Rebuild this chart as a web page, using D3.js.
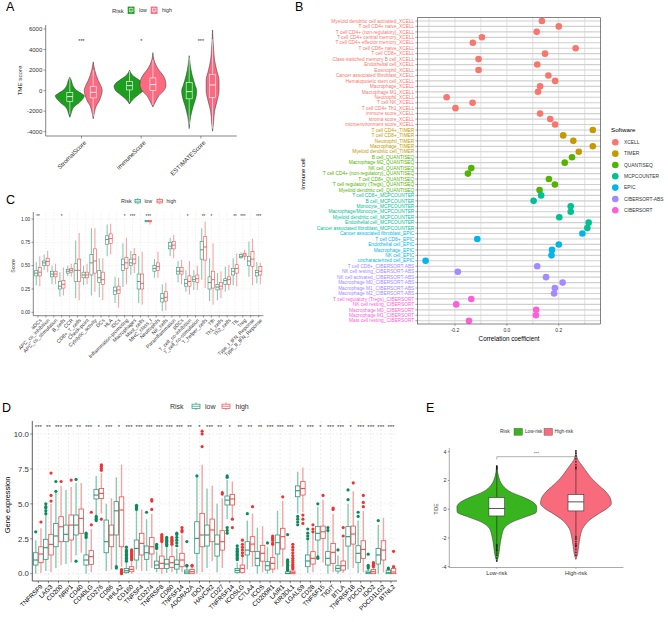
<!DOCTYPE html>
<html><head><meta charset="utf-8">
<script src="https://cdn.jsdelivr.net/npm/d3@7/dist/d3.min.js"></script>
<style>
body{margin:0;background:#fff}
svg{display:block}
text{font-family:"Liberation Sans",Arial,sans-serif}
</style>
</head><body>
<svg id="c" width="668" height="622"></svg>
<script>
// ---------------- DATA ----------------
// Panel A
const tmeCategories = ["StromalScore","ImmuneScore","ESTIMATEScore"];
const tmeTicks = [-4000,-2000,0,2000,4000,6000];
const tmeSig = ["***","*","***"];
const tmeDensLow = [
  [[-2600,0],[-2300,0.07],[-2000,0.13],[-1600,0.27],[-1200,0.6],[-800,0.87],[-500,0.97],[-300,0.8],[0,0.47],[500,0.2],[1000,0.1],[1300,0]],
  [[-1300,0],[-800,0.27],[-400,0.6],[0,0.93],[400,1.03],[700,0.93],[1000,0.67],[1500,0.2],[2000,0]],
  [[-3700,0],[-2500,0.1],[-1500,0.27],[-500,0.47],[0,0.5],[500,0.4],[1500,0.2],[2500,0.07],[3400,0]]
];
const tmeDensHigh = [
  [[-2750,0],[-2000,0.1],[-1500,0.2],[-1000,0.4],[-500,0.53],[0,0.6],[500,0.5],[1000,0.33],[1500,0.2],[2000,0.1],[2800,0]],
  [[-1600,0],[-1500,0.03],[-1000,0.2],[-500,0.4],[0,0.73],[500,0.87],[1000,0.83],[1500,0.67],[2000,0.4],[2500,0.2],[3000,0.07],[3700,0]],
  [[-3950,0],[-3000,0.07],[-2000,0.13],[-1000,0.3],[0,0.43],[1000,0.43],[2000,0.27],[3000,0.13],[4000,0.07],[5900,0]]
];
// box stats: [lowerWhisker, q1, median, q3, upperWhisker]
const tmeBoxLow  = [[-2300,-1040,-584,-165,1200],[-1100,68,487,877,1900],[-3300,-800,-100,800,3200]];
const tmeBoxHigh = [[-2500,-710,-165,390,2000],[-1400,0,584,1237,3000],[-3700,-650,550,1560,5000]];

// Panel B
const immuneCells = [
 "Myeloid dendritic cell activated_XCELL","T cell CD4+ naive_XCELL","T cell CD4+ (non-regulatory)_XCELL",
 "T cell CD4+ central memory_XCELL","T cell CD4+ effector memory_XCELL","T cell CD8+ naive_XCELL","T cell CD8+_XCELL",
 "Class-switched memory B cell_XCELL","Endothelial cell_XCELL","Eosinophil_XCELL","Cancer associated fibroblast_XCELL",
 "Hematopoietic stem cell_XCELL","Macrophage_XCELL","Macrophage M1_XCELL","Neutrophil_XCELL","T cell NK_XCELL",
 "T cell CD4+ Th1_XCELL","immune score_XCELL","stroma score_XCELL","microenvironment score_XCELL",
 "T cell CD4+_TIMER","T cell CD8+_TIMER","Neutrophil_TIMER","Macrophage_TIMER","Myeloid dendritic cell_TIMER",
 "B cell_QUANTISEQ","Macrophage M2_QUANTISEQ","NK cell_QUANTISEQ","T cell CD4+ (non-regulatory)_QUANTISEQ",
 "T cell CD8+_QUANTISEQ","T cell regulatory (Tregs)_QUANTISEQ","Myeloid dendritic cell_QUANTISEQ",
 "T cell CD8+_MCPCOUNTER","B cell_MCPCOUNTER","Monocyte_MCPCOUNTER","Macrophage/Monocyte_MCPCOUNTER",
 "Myeloid dendritic cell_MCPCOUNTER","Endothelial cell_MCPCOUNTER","Cancer associated fibroblast_MCPCOUNTER",
 "Cancer associated fibroblast_EPIC","T cell CD8+_EPIC","Endothelial cell_EPIC","Macrophage_EPIC","NK cell_EPIC",
 "uncharacterized cell_EPIC","T cell CD8+_CIBERSORT-ABS","NK cell resting_CIBERSORT-ABS","NK cell activated_CIBERSORT-ABS",
 "Macrophage M0_CIBERSORT-ABS","Macrophage M1_CIBERSORT-ABS","Macrophage M2_CIBERSORT-ABS",
 "T cell regulatory (Tregs)_CIBERSORT","NK cell resting_CIBERSORT","Macrophage M0_CIBERSORT","Macrophage M1_CIBERSORT",
 "Mast cell resting_CIBERSORT"];
const corrValues = [0.135,0.2,0.115,-0.096,-0.131,0.265,0.147,-0.109,0.117,-0.109,0.16,0.186,0.128,0.12,-0.232,-0.132,
 -0.198,0.128,0.167,0.186,0.331,0.217,0.256,0.331,0.277,0.251,0.223,-0.137,-0.15,0.162,0.185,0.126,0.132,0.103,0.246,
 0.246,0.202,0.315,0.31,0.291,-0.114,0.2,0.174,0.172,-0.313,0.117,-0.189,0.151,0.215,0.185,0.182,-0.137,-0.195,0.113,
 0.112,-0.146];
const softwareList = ["XCELL","TIMER","QUANTISEQ","MCPCOUNTER","EPIC","CIBERSORT-ABS","CIBERSORT"];
const corrTicks = [-0.2,0,0.2];
const corrGrid = [-0.3,-0.2,-0.1,0,0.1,0.2,0.3];

// Panel C
const ssCategories = ["aDCs","APC_co_inhibition","APC_co_stimulation","B_cells","CCR","CD8+_T_cells","Check-point",
 "Cytolytic_activity","DCs","HLA","iDCs","Inflammation-promoting","Macrophages","Mast_cells","MHC_class_I","Neutrophils",
 "NK_cells","Parainflammation","pDCs","T_cell_co-inhibition","T_cell_co-stimulation","T_helper_cells","Tfh","Th1_cells",
 "Th2_cells","TIL","Treg","Type_I_IFN_Reponse","Type_II_IFN_Reponse"];
const ssLow = [[0.29,0.39,0.42,0.45,0.54],[0.45,0.50,0.53,0.55,0.62],[0.30,0.38,0.41,0.44,0.50],[0.17,0.25,0.28,0.33,0.43],
 [0.39,0.42,0.44,0.46,0.50],[0.15,0.33,0.45,0.52,0.77],[0.29,0.37,0.40,0.43,0.50],[0.18,0.40,0.53,0.62,0.90],
 [0.16,0.32,0.37,0.45,0.58],[0.60,0.73,0.78,0.82,0.94],[0.10,0.19,0.23,0.27,0.38],[0.27,0.45,0.51,0.57,0.74],
 [0.40,0.50,0.53,0.57,0.66],[0.10,0.25,0.33,0.41,0.60],[0.965,0.97,0.978,0.985,0.99],[0.37,0.44,0.47,0.50,0.57],
 [0.01,0.11,0.15,0.20,0.30],[0.60,0.68,0.71,0.75,0.80],[0.32,0.41,0.44,0.48,0.55],[0.22,0.28,0.31,0.35,0.45],
 [0.24,0.33,0.35,0.38,0.45],[0.35,0.57,0.67,0.76,0.90],[0.12,0.25,0.32,0.38,0.58],[0.13,0.24,0.27,0.30,0.42],
 [0.22,0.30,0.34,0.36,0.49],[0.29,0.40,0.44,0.47,0.58],[0.57,0.585,0.60,0.62,0.64],[0.38,0.50,0.55,0.60,0.76],
 [0.31,0.39,0.425,0.45,0.54]];
const ssHigh = [[0.28,0.39,0.43,0.48,0.60],[0.43,0.50,0.545,0.58,0.66],[0.30,0.38,0.41,0.44,0.52],[0.18,0.26,0.30,0.34,0.48],
 [0.38,0.43,0.45,0.47,0.52],[0.13,0.33,0.45,0.57,0.85],[0.30,0.37,0.40,0.43,0.52],[0.22,0.42,0.55,0.68,0.90],
 [0.13,0.30,0.35,0.43,0.58],[0.62,0.74,0.79,0.84,0.95],[0.05,0.20,0.24,0.28,0.37],[0.30,0.47,0.53,0.59,0.80],
 [0.42,0.52,0.57,0.62,0.69],[0.08,0.25,0.31,0.41,0.65],[0.94,0.97,0.975,0.985,0.99],[0.37,0.45,0.49,0.53,0.65],
 [0.02,0.12,0.16,0.22,0.32],[0.58,0.68,0.72,0.76,0.83],[0.30,0.41,0.44,0.48,0.56],[0.19,0.28,0.33,0.39,0.55],
 [0.24,0.32,0.36,0.40,0.50],[0.26,0.56,0.70,0.81,0.97],[0.08,0.26,0.35,0.44,0.74],[0.15,0.25,0.28,0.32,0.44],
 [0.24,0.30,0.35,0.38,0.51],[0.28,0.42,0.47,0.51,0.63],[0.56,0.60,0.614,0.63,0.67],[0.29,0.49,0.57,0.65,0.79],
 [0.30,0.40,0.44,0.49,0.53]];
const ssSig = ["**","","","*","","","","","","","","*","***","","***","","","","","*","","**","*","","","**","***","","***"];
const ssTicks = [0,0.25,0.5,0.75,1];

// Panel D
const genes = ["TNFRSF9","LAG3","CD200","NRP1","CD40","CD40LG","CD276","CD86","HHLA2","CD160","TNFSF4","CD274","TNFRSF8",
 "CD80","TNFSF14","ADORA2A","IDO1","HAVCR2","CD27","TNFRSF14","ICOSLG","CTLA4","ICOS","CD200R1","LAIR1","KIR3DL1",
 "LGALS9","CD28","TNFSF15","TIGIT","BTLA","TNFRSF18","PDCD1","IDO2","PDCD1LG2","BTNL2"];
const geneLow = [[0,0.62,0.98,1.5,2.4],[0.2,1.03,1.86,2.46,4.2],[0.4,1.93,2.7,3.6,5.8],[0.7,2.29,2.82,3.48,6.0],
 [1.3,2.77,3.48,4.2,6.5],[0,0.62,0.98,1.34,2.5],[4.2,5.35,5.63,6.04,7.0],[0.2,1.5,2.29,3.84,5.0],[0.6,2.77,4.5,5.16,6.9],
 [0,0.07,0.21,0.38,0.8],[0.3,0.98,1.81,2.41,4.5],[0.2,1.03,1.5,1.98,3.9],[0.1,0.38,0.62,0.9,1.6],[0.05,0.38,0.69,1.03,1.9],
 [0,0.33,0.67,0.98,1.8],[0,0,0.12,0.26,0.5],[0,1.46,2.53,3.72,6.9],[0.4,1.98,2.77,3.48,6.1],[0.1,1.26,2.12,2.77,5.0],
 [3.9,4.92,5.27,5.56,6.7],[0,0.07,0.24,0.38,0.8],[0.3,1.34,1.69,2.29,3.8],[0,0.57,1.1,1.58,3.3],[0,0.26,0.57,0.86,1.9],
 [0.3,1.41,2.22,2.77,4.5],[0,0,0.02,0.14,0.2],[4.3,5.51,5.94,6.28,7.3],[0.05,0.5,0.91,1.34,2.4],[1.1,2.41,2.89,3.37,4.8],
 [0,0.62,1.1,1.58,3.0],[0,0.19,0.38,0.57,1.3],[0.3,1.98,2.65,3.37,5.0],[0.05,0.79,1.46,2.0,3.8],[0,0,0.07,0.19,0.3],
 [0,0.69,1.34,1.81,3.5],[0,0,0.07,0.26,0.3]];
const geneHigh = [[0.05,0.79,1.41,1.93,3.25],[0.1,1.34,2.1,2.82,5.0],[0.6,2.29,3.36,4.08,6.3],[0.8,2.41,3.48,4.2,6.2],
 [1.5,2.89,3.96,4.63,6.5],[0.1,0.67,1.22,1.65,3.2],[4.3,5.39,5.75,6.1,7.2],[0.3,1.93,2.77,3.48,5.4],[0.5,1.93,4.56,5.5,7.8],
 [0,0.14,0.31,0.5,0.9],[0.2,1.34,2.17,2.89,4.6],[0.4,1.41,1.93,2.58,4.3],[0,0.38,0.74,1.26,2.2],[0.1,0.45,0.79,1.22,2.0],
 [0.1,0.5,0.98,1.46,2.8],[0,0,0.14,0.31,0.5],[0.1,1.93,2.77,4.32,7.8],[0.9,2.29,3.13,3.91,6.3],[0.4,1.69,2.29,3.08,5.4],
 [4.0,4.92,5.35,5.68,6.6],[0,0.1,0.38,0.62,1.2],[0.5,1.58,2.12,2.65,4.3],[0.1,0.9,1.46,2.03,3.4],[0.05,0.33,0.74,1.15,2.0],
 [0.5,1.77,2.65,3.25,5.2],[0,0,0.07,0.19,0.3],[4.4,5.63,6.1,6.59,7.6],[0.1,0.69,1.1,1.58,2.9],[0.8,2.53,3.0,3.41,5.3],
 [0.1,0.74,1.53,2.17,4.3],[0.05,0.26,0.57,0.91,2.5],[0.4,2.12,2.84,3.41,5.9],[0.1,1.1,1.74,2.36,4.5],[0,0,0.14,0.31,0.4],
 [0.1,0.98,1.69,2.36,4.0],[0,0,0.12,0.38,0.4]];
const geneLowOut = [[3.0],[4.3,4.5,4.7,4.8,5.0],[5.9,6.6],[],[6.75,0.9],[2.6,2.7,2.8,2.9],[3.8,3.9,4.0,4.1],[],[0.4,0.5],
 [0.9,1.0,1.1,1.2,1.3,1.4,1.5,1.6,1.7,1.9],[4.6,4.7,4.8,4.9],[4.4],[1.8,1.9,2.0,2.1],[2.0,2.1,2.2,2.3,2.4,2.5,2.6],
 [2.0,2.2,2.4,2.6,2.8,2.9],[0.55,0.6,2.3],[7.0],[],[],[6.9,7.0,3.3,3.1,2.9],[1.0,1.1,1.2,1.3,1.4,1.5,1.6,1.7,1.8,2.0],
 [4.3],[],[2.2],[],[0.25,0.3,0.4,0.5,0.6,0.7,0.8,0.9,1.0,2.8],[3.5,3.7,3.9,4.1],[2.5,2.7,2.9,3.2],[5.0,1.1,1.2],[3.1,3.3],
 [1.7],[5.3,6.0],[4.1,4.4],[0.4,0.5,0.6,1.4],[3.8],[0.35,0.4]];
const geneHighOut = [[3.7],[5.2,5.6,7.2],[6.6],[6.7],[],[3.5,4.4],[7.4,7.55,7.7,7.8,3.9],[],[0.0,0.1,0.2,0.3],
 [1.0,1.1,1.2,1.3,1.4,1.5,1.6,1.7],[],[4.6,5.2,5.3],[2.3,2.4,2.5,2.6,2.7,2.8],[2.1,2.2,2.3,2.4,2.5,2.6],[3.0,3.1,3.3],
 [0.55,0.6],[9.1,10.0,10.2],[],[5.7,5.8],[3.9,3.3],[1.3,1.5,1.7,1.9,2.1,2.4],[4.8],[],[2.1,2.2,2.4,2.5,2.6,2.7],[5.5],
 [0.35,0.45,0.55,0.65,0.8,0.95,1.1,1.3,1.5,1.7,1.9,2.1],[3.6,3.9,4.2],[3.0,3.2,3.5],[5.6],[4.6,4.7],[2.7,3.3],[6.5],
 [4.8,5.1,5.6],[0.5,0.6,0.7,0.8],[],[0.5,1.6]];
const geneSig = ["***","**","***","***","**","***","*","***","*","***","***","***","***","***","***","**","*","***","**",
 "*","**","**","**","***","***","***","*","***","*","***","***","*","***","***","***","***"];
const geneTicks = [0,2.5,5,7.5,10];

// Panel E
const tideGroups = ["Low-risk","High-risk"];
const tideTicks = [-4,-2,0,2,4];
const tideDens = [
  [[-3.66,0],[-3.31,0.037],[-2.62,0.074],[-1.92,0.115],[-1.34,0.18],[-0.88,0.39],[-0.53,0.71],[-0.19,0.975],[0.16,0.98],[0.51,0.88],[0.86,0.63],[1.2,0.34],[1.55,0.18],[2.01,0.074],[3.06,0]],
  [[-3.5,0],[-3.31,0.025],[-2.62,0.066],[-1.92,0.105],[-1.35,0.165],[-0.77,0.33],[-0.31,0.56],[0.04,0.76],[0.39,0.87],[0.74,0.85],[1.2,0.74],[1.66,0.56],[2.13,0.39],[2.57,0.27],[3.04,0.15],[3.5,0.04],[4.1,0]]
];
const tideBox = [[-2.39,-0.47,0.05,0.81,2.73],[-1.83,-0.12,0.51,1.02,2.73]];
const tideOut = [
  [2.78,2.85,2.9,2.95,3.0,-2.45,-2.5,-2.55,-2.62,-2.7,-2.8,-2.85,-2.9,-3.05,-3.2,-3.4,-3.6],
  [2.8,2.88,2.95,3.1,3.3,3.5,3.7,3.9,4.05,-1.9,-2.0,-2.1,-2.25,-2.4,-2.5,-2.55,-2.62,-2.8,-3.0,-3.2]
];
const tideSig = "***";

// ---------------- STYLE ----------------
const svg = d3.select("#c");
const AXC = "#333";
const TXC = "#333";
const swColors = ["#F8766D","#C49A00","#53B400","#00C094","#00B6EB","#A58AFF","#FB61D7"];
const loA = "#1E9E1E", hiA = "#FB6A80";
const loC = "#22997A", hiC = "#EE4B4B", loW = "#86CBB2", hiW = "#F5A5A5", loPt = "#0B8A5E", hiPt = "#EE3333";
const loE = "#38B41E", hiE = "#F76B7D";

function txt(g, x, y, s, size, opts={}) {
  const t = g.append("text").attr("x", x).attr("y", y).attr("font-size", size).attr("fill", opts.fill || TXC).text(s);
  if (opts.anchor) t.attr("text-anchor", opts.anchor);
  if (opts.dy) t.attr("dy", opts.dy);
  if (opts.rotate !== undefined) t.attr("transform", `rotate(${opts.rotate},${x},${y})`);
  if (opts.family) t.attr("font-family", opts.family);
  return t;
}
function line(g, x1, y1, x2, y2, col, w, dash) {
  const l = g.append("line").attr("x1", x1).attr("y1", y1).attr("x2", x2).attr("y2", y2)
    .attr("stroke", col).attr("stroke-width", w);
  if (dash) l.attr("stroke-dasharray", dash);
  return l;
}
function letter(s, x, y) {
  txt(svg, x, y, s, 12.5, {family: "Liberation Serif, Times New Roman, serif", fill: "#000"});
}
function boxplot(g, cx, w, yS, s, col, wcol, ww, lw, fill) {
  line(g, cx, yS(s[3]), cx, yS(s[4]), wcol, ww);
  line(g, cx, yS(s[0]), cx, yS(s[1]), wcol, ww);
  g.append("rect").attr("x", cx - w/2).attr("y", yS(s[3])).attr("width", w)
    .attr("height", Math.max(0.3, yS(s[1]) - yS(s[3]))).attr("fill", fill).attr("stroke", col).attr("stroke-width", lw);
  line(g, cx - w/2, yS(s[2]), cx + w/2, yS(s[2]), col, lw * 1.4);
}
function yAxis(g, x, yS, ticks, fmt, size, tickLen) {
  ticks.forEach(t => {
    line(g, x - tickLen, yS(t), x, yS(t), AXC, 0.5);
    txt(g, x - tickLen - 1.2, yS(t), fmt(t), size, {anchor: "end", dy: "0.35em"});
  });
}
function outlineKey(g, x, y, w, h, col) {
  const cx = x + w/2;
  line(g, cx, y, cx, y + h, col, 0.7);
  g.append("rect").attr("x", x + 1).attr("y", y + h*0.22).attr("width", w - 2).attr("height", h*0.56)
    .attr("fill", "#fff").attr("stroke", col).attr("stroke-width", 0.7);
  line(g, x + 1, y + h/2, x + w - 1, y + h/2, col, 0.7);
}
const minus = f => (d => f(d).replace("\u2212", "-"));

// ---------------- PANEL A ----------------
(function(){
  const g = svg.append("g");
  letter("A", 6, 11);
  const aX = d3.scalePoint().domain(tmeCategories).range([45.7, 236.7]).padding(0.6);
  const aY = d3.scaleLinear().domain([-4000, 6000]).range([131.7, 29]);
  const dodge = 11.7, half = 15, bw = 6;
  tmeCategories.forEach((c, i) => {
    [[tmeDensLow[i], tmeBoxLow[i], loA, -1], [tmeDensHigh[i], tmeBoxHigh[i], hiA, 1]].forEach(([dens, bx, col, sg]) => {
      const cx = aX(c) + sg * dodge;
      const area = d3.area().curve(d3.curveMonotoneY).y(d => aY(d[0]))
        .x0(d => cx - d[1] * half).x1(d => cx + d[1] * half);
      g.append("path").attr("d", area(dens)).attr("fill", col).attr("stroke", "#333").attr("stroke-width", 0.5);
      boxplot(g, cx, bw, aY, bx, "#fff", "#fff", 0.6, 0.6, "none");
    });
    txt(g, aX(c), 42.5, tmeSig[i], 5.5, {anchor: "middle"});
    line(g, aX(c), 136, aX(c), 138.5, AXC, 0.5);
    txt(g, aX(c) + 2, 140, c, 6.2, {anchor: "end", dy: "0.7em", rotate: -45});
  });
  line(g, 45.7, 25, 45.7, 136, AXC, 0.6);
  line(g, 45.7, 136, 236.7, 136, AXC, 0.6);
  yAxis(g, 45.7, aY, tmeTicks, minus(d3.format("d")), 6, 2.2);
  txt(g, 21.5, 80.5, "TME score", 6.2, {anchor: "middle", rotate: -90});
  // legend
  txt(g, 112, 12.6, "Risk", 6);
  [[127.7, loA, "low", 139], [150.7, hiA, "high", 162]].forEach(([x, col, lab, tx]) => {
    g.append("rect").attr("x", x).attr("y", 6.6).attr("width", 6.8).attr("height", 7.3).attr("fill", col);
    line(g, x + 3.4, 7.3, x + 3.4, 13.2, "#fff", 0.5);
    g.append("rect").attr("x", x + 1.5).attr("y", 8.6).attr("width", 3.8).attr("height", 3.2)
      .attr("fill", col).attr("stroke", "#fff").attr("stroke-width", 0.5);
    line(g, x + 1.5, 10.2, x + 5.3, 10.2, "#fff", 0.5);
    txt(g, tx, 12.3, lab, 5.3);
  });
})();

// ---------------- PANEL B ----------------
(function(){
  const g = svg.append("g");
  letter("B", 295, 11);
  const x0 = 417.3, x1 = 600.7, y0 = 17.7, y1 = 324;
  const bY = d3.scalePoint().domain(d3.range(immuneCells.length)).range([y0, y1]).padding(0.6);
  const bX = d3.scaleLinear().domain([-0.345, 0.3615]).range([x0, x1]);
  const swColor = d3.scaleOrdinal().domain(softwareList).range(swColors);
  g.append("rect").attr("x", x0).attr("y", y0).attr("width", x1 - x0).attr("height", y1 - y0).attr("fill", "#fff");
  corrGrid.forEach(v => line(g, bX(v), y0, bX(v), y1, "#CDCDCD", 0.6));
  immuneCells.forEach((c, i) => line(g, x0, bY(i), x1, bY(i), "#D0D0D0", 1.15));
  immuneCells.forEach((c, i) => {
    const sw = c.split("_").pop();
    g.append("circle").attr("cx", bX(corrValues[i])).attr("cy", bY(i)).attr("r", 3.3).attr("fill", swColor(sw));
    txt(g, 414.3, bY(i), c, 4.8, {anchor: "end", dy: "0.35em", fill: swColor(sw)});
    line(g, 415.3, bY(i), x0, bY(i), AXC, 0.4);
  });
  g.append("rect").attr("x", x0).attr("y", y0).attr("width", x1 - x0).attr("height", y1 - y0)
    .attr("fill", "none").attr("stroke", "#333").attr("stroke-width", 0.6);
  corrTicks.forEach(v => {
    line(g, bX(v), y1, bX(v), y1 + 2, AXC, 0.4);
    txt(g, bX(v), 331.6, minus(d3.format(".1f"))(v), 5, {anchor: "middle"});
  });
  txt(g, (x0 + x1) / 2, 340.5, "Correlation coefficient", 6.3, {anchor: "middle", fill: "#000"});
  txt(g, 305, 174, "Immune cell", 5.8, {anchor: "middle", rotate: -90, fill: "#000"});
  // legend
  txt(g, 611, 132.3, "Software", 6.2, {fill: "#000"});
  softwareList.forEach((s, i) => {
    const yy = 142.3 + i * 11.33;
    g.append("circle").attr("cx", 615.3).attr("cy", yy).attr("r", 3.3).attr("fill", swColor(s));
    txt(g, 624, yy, s, 4.9, {dy: "0.35em"});
  });
})();

// ---------------- PANEL C ----------------
(function(){
  const g = svg.append("g");
  letter("C", 6, 204);
  const x0 = 33.3, x1 = 263.3, yb = 315.7, yt = 212;
  const cX = d3.scalePoint().domain(ssCategories).range([x0, x1]).padding(0.6);
  const cY = d3.scaleLinear().domain([0, 1]).range([312.3, 219]);
  ssTicks.forEach(t => line(g, x0, cY(t), x1, cY(t), "#E2E2E2", 0.5, "1.5,1.5"));
  ssCategories.forEach(c => line(g, cX(c), yt, cX(c), yb, "#E2E2E2", 0.5, "1.5,1.5"));
  const d = 1.75, bw = 3.1;
  ssCategories.forEach((c, i) => {
    boxplot(g, cX(c) - d, bw, cY, ssLow[i], loC, loW, 1.1, 0.6, "#fff");
    boxplot(g, cX(c) + d, bw, cY, ssHigh[i], hiC, hiW, 1.1, 0.6, "#fff");
    if (ssSig[i]) txt(g, cX(c), 218.2, ssSig[i], 4.6, {anchor: "middle"});
    line(g, cX(c), yb, cX(c), yb + 1.8, AXC, 0.5);
    txt(g, cX(c) + 1.5, yb + 2.5, c, 5.1, {anchor: "end", dy: "0.7em", rotate: -45});
  });
  line(g, x0, yt, x0, yb, AXC, 0.6);
  line(g, x0, yb, x1, yb, AXC, 0.6);
  yAxis(g, x0, cY, ssTicks, d3.format(".2f"), 4.8, 1.8);
  txt(g, 15, 266, "Score", 5.2, {anchor: "middle", rotate: -90});
  txt(g, 121, 203, "Risk", 5.5);
  outlineKey(g, 134, 198.2, 7.5, 6, loC);
  txt(g, 144.5, 203, "low", 5);
  outlineKey(g, 156, 198.2, 7.5, 6, hiC);
  txt(g, 166.5, 203, "high", 5);
})();

// ---------------- PANEL D ----------------
(function(){
  const g = svg.append("g");
  letter("D", 2, 412);
  const x0 = 32.3, x1 = 397, yb = 581, yt = 421;
  const dX = d3.scalePoint().domain(genes).range([x0, x1]).padding(0.6);
  const dY = d3.scaleLinear().domain([0, 10]).range([573.7, 434]);
  geneTicks.forEach(t => line(g, x0, dY(t), x1, dY(t), "#E2E2E2", 0.6, "2,2"));
  genes.forEach(c => line(g, dX(c), yt, dX(c), yb, "#E2E2E2", 0.6, "2,2"));
  const d = 2.6, bw = 4.5;
  genes.forEach((c, i) => {
    boxplot(g, dX(c) - d, bw, dY, geneLow[i], loC, loW, 1.4, 0.8, "#fff");
    boxplot(g, dX(c) + d, bw, dY, geneHigh[i], hiC, hiW, 1.4, 0.8, "#fff");
    geneLowOut[i].forEach(v => g.append("circle").attr("cx", dX(c) - d).attr("cy", dY(v)).attr("r", 1.6).attr("fill", loPt));
    geneHighOut[i].forEach(v => g.append("circle").attr("cx", dX(c) + d).attr("cy", dY(v)).attr("r", 1.6).attr("fill", hiPt));
    txt(g, dX(c), 429.3, geneSig[i], 6, {anchor: "middle"});
    line(g, dX(c), yb, dX(c), yb + 2.2, AXC, 0.6);
    txt(g, dX(c) + 1.5, yb + 3, c, 6.4, {anchor: "end", dy: "0.7em", rotate: -45, fill: "#000"});
  });
  line(g, x0, yt, x0, yb, AXC, 0.8);
  line(g, x0, yb, x1, yb, AXC, 0.8);
  yAxis(g, x0, dY, geneTicks, d3.format(".1f"), 7.8, 2.2);
  txt(g, 9.5, 505, "Gene expression", 7.5, {anchor: "middle", rotate: -90, fill: "#000"});
  txt(g, 170, 409, "Risk", 7);
  outlineKey(g, 191, 402.5, 10, 7.5, loC);
  txt(g, 205, 409, "low", 7);
  outlineKey(g, 221, 402.5, 10, 7.5, hiC);
  txt(g, 235.5, 409, "high", 7);
})();

// ---------------- PANEL E ----------------
(function(){
  const g = svg.append("g");
  letter("E", 426, 412);
  const x0 = 449.3, x1 = 623.4, yb = 567.5, yt = 448;
  const eX = d3.scalePoint().domain(tideGroups).range([x0, x1]).padding(0.6);
  const eY = d3.scaleLinear().domain([-4, 4]).range([566.7, 451.7]);
  const half = 40.7, bw = 15.8, cols = [loE, hiE];
  tideGroups.forEach((grp, i) => {
    const cx = eX(grp);
    const area = d3.area().curve(d3.curveMonotoneY).y(d => eY(d[0]))
      .x0(d => cx - d[1] * half).x1(d => cx + d[1] * half);
    g.append("path").attr("d", area(tideDens[i])).attr("fill", cols[i]).attr("stroke", "#333").attr("stroke-width", 0.5);
    boxplot(g, cx, bw, eY, tideBox[i], "#333", "#222", 0.6, 0.6, "#fff");
    tideOut[i].forEach(v => g.append("circle").attr("cx", cx).attr("cy", eY(v)).attr("r", 0.9).attr("fill", "#111").attr("opacity", 0.75));
    line(g, cx, yb, cx, yb + 1.5, "#555", 0.4);
    txt(g, cx, 574.6, grp, 5.6, {anchor: "middle"});
  });
  const la = eX(tideGroups[0]), lb = eX(tideGroups[1]);
  line(g, la, 456.7, lb, 456.7, "#666", 0.5);
  line(g, la, 456.7, la, 459.5, "#666", 0.5);
  line(g, lb, 456.7, lb, 459.5, "#666", 0.5);
  txt(g, (la + lb) / 2, 454.8, tideSig, 4.4, {anchor: "middle"});
  line(g, x0, yt, x0, yb, "#555", 0.5);
  line(g, x0, yb, x1, yb, "#555", 0.5);
  yAxis(g, x0, eY, tideTicks, minus(d3.format("d")), 5.4, 1.5);
  txt(g, 437.5, 509, "TIDE", 4.8, {anchor: "middle", rotate: -90});
  txt(g, 500, 433.3, "Risk", 5);
  g.append("rect").attr("x", 514).attr("y", 428.3).attr("width", 8.5).attr("height", 7).attr("fill", loE).attr("stroke", "#555").attr("stroke-width", 0.4);
  txt(g, 525, 433.3, "Low-risk", 4.7);
  g.append("rect").attr("x", 544).attr("y", 428.3).attr("width", 8.5).attr("height", 7).attr("fill", hiE).attr("stroke", "#555").attr("stroke-width", 0.4);
  txt(g, 554.5, 433.3, "High-risk", 4.7);
})();
</script>
</body></html>
